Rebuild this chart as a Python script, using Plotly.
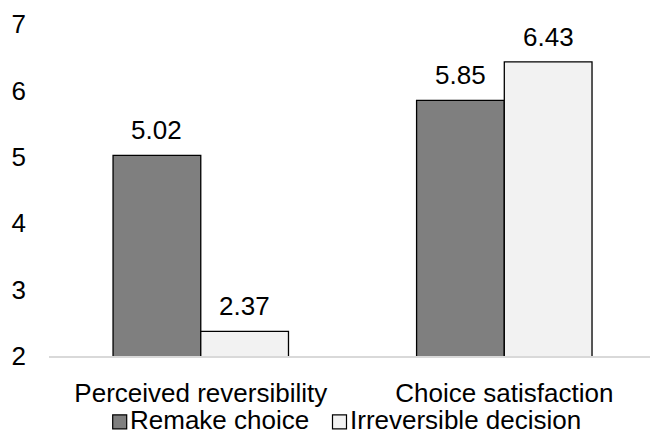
import plotly.graph_objects as go

# Data
categories = ["Perceived reversibility", "Choice satisfaction"]
series_names = ["Remake choice", "Irreversible decision"]
remake_values = [5.02, 5.85]
irreversible_values = [2.37, 6.43]
y_ticks = [2, 3, 4, 5, 6, 7]

# Style
W, H = 650, 436
M_L, M_R, M_T, M_B = 49, 0, 23.5, 79.5
FONT = "Liberation Sans, Arial, sans-serif"
FS = 26
fills = ["#7f7f7f", "#f2f2f2"]
BAR_W = 0.289  # fraction of a category slot per bar

plot_w = W - M_L - M_R
plot_h = H - M_T - M_B


def px_to_paper_x(px):
    return (px - M_L) / plot_w


def px_to_paper_y(py):
    return (H - M_B - py) / plot_h


fig = go.Figure()
offsets = [-BAR_W, 0.0]
for name, vals, fill, off in zip(series_names, [remake_values, irreversible_values], fills, offsets):
    fig.add_trace(go.Bar(
        name=name,
        x=list(range(len(categories))),
        y=vals,
        base=0,
        width=BAR_W,
        offset=off,
        marker=dict(color=fill, line=dict(color="#000000", width=1.3)),
        showlegend=False,
    ))
    # value labels above each bar
    for i, v in enumerate(vals):
        fig.add_annotation(
            x=i + off + BAR_W / 2, y=v, xref="x", yref="y",
            text=f"{v:.2f}", showarrow=False,
            yanchor="bottom", yshift=8,
            font=dict(family=FONT, size=FS, color="#000000"),
        )

# Custom legend: swatch squares followed by labels
legend_items = [(112.7, 129), (332.5, 349)]
for (sx, tx), name, fill in zip(legend_items, series_names, fills):
    fig.add_shape(
        type="rect", xref="paper", yref="paper",
        x0=px_to_paper_x(sx), x1=px_to_paper_x(sx + 14),
        y0=px_to_paper_y(429.5), y1=px_to_paper_y(415.5),
        fillcolor=fill, line=dict(color="#000000", width=1.2),
    )
    fig.add_annotation(
        x=px_to_paper_x(tx), y=px_to_paper_y(421), xref="paper", yref="paper",
        text=name, showarrow=False, xanchor="left", yanchor="middle",
        borderpad=0,
        font=dict(family=FONT, size=FS, color="#000000"),
    )

fig.update_layout(
    width=W, height=H,
    margin=dict(l=M_L, r=M_R, t=M_T, b=M_B),
    paper_bgcolor="white", plot_bgcolor="white",
    font=dict(family=FONT, size=FS, color="#000000"),
    showlegend=False,
    xaxis=dict(
        range=[-0.5, 1.48],
        tickmode="array", tickvals=list(range(len(categories))), ticktext=categories,
        showgrid=False, zeroline=False,
        showline=True, linecolor="#d9d9d9", linewidth=1.5,
        ticks="", ticklabelstandoff=13,
        tickfont=dict(family=FONT, size=FS, color="#000000"),
    ),
    yaxis=dict(
        range=[2, 7], tickvals=y_ticks,
        showgrid=False, zeroline=False, showline=False,
        ticks="", ticklabelstandoff=22,
        tickfont=dict(family=FONT, size=FS, color="#000000"),
    ),
)

fig.write_html("out.html")
